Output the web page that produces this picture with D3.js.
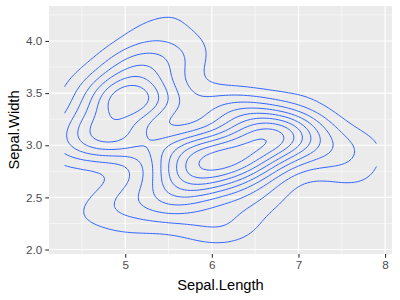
<!DOCTYPE html>
<html><head><meta charset="utf-8">
<script src="https://cdn.jsdelivr.net/npm/d3@7"></script>
<style>body{margin:0;background:#fff}svg{display:block}</style>
</head><body>
<svg id="chart" width="400" height="300"></svg>
<script>
// iris dataset (R), Sepal.Length and Sepal.Width
const sepalLength = [5.1,4.9,4.7,4.6,5.0,5.4,4.6,5.0,4.4,4.9,5.4,4.8,4.8,4.3,5.8,5.7,5.4,5.1,5.7,5.1,5.4,5.1,4.6,5.1,4.8,5.0,5.0,5.2,5.2,4.7,4.8,5.4,5.2,5.5,4.9,5.0,5.5,4.9,4.4,5.1,5.0,4.5,4.4,5.0,5.1,4.8,5.1,4.6,5.3,5.0,
7.0,6.4,6.9,5.5,6.5,5.7,6.3,4.9,6.6,5.2,5.0,5.9,6.0,6.1,5.6,6.7,5.6,5.8,6.2,5.6,5.9,6.1,6.3,6.1,6.4,6.6,6.8,6.7,6.0,5.7,5.5,5.5,5.8,6.0,5.4,6.0,6.7,6.3,5.6,5.5,5.5,6.1,5.8,5.0,5.6,5.7,5.7,6.2,5.1,5.7,
6.3,5.8,7.1,6.3,6.5,7.6,4.9,7.3,6.7,7.2,6.5,6.4,6.8,5.7,5.8,6.4,6.5,7.7,7.7,6.0,6.9,5.6,7.7,6.3,6.7,7.2,6.2,6.1,6.4,7.2,7.4,7.9,6.4,6.3,6.1,7.7,6.3,6.4,6.0,6.9,6.7,6.9,5.8,6.8,6.7,6.7,6.3,6.5,6.2,5.9];
const sepalWidth = [3.5,3.0,3.2,3.1,3.6,3.9,3.4,3.4,2.9,3.1,3.7,3.4,3.0,3.0,4.0,4.4,3.9,3.5,3.8,3.8,3.4,3.7,3.6,3.3,3.4,3.0,3.4,3.5,3.4,3.2,3.1,3.4,4.1,4.2,3.1,3.2,3.5,3.6,3.0,3.4,3.5,2.3,3.2,3.5,3.8,3.0,3.8,3.2,3.7,3.3,
3.2,3.2,3.1,2.3,2.8,2.8,3.3,2.4,2.9,2.7,2.0,3.0,2.2,2.9,2.9,3.1,3.0,2.7,2.2,2.5,3.2,2.8,2.5,2.8,2.9,3.0,2.8,3.0,2.9,2.6,2.4,2.4,2.7,2.7,3.0,3.4,3.1,2.3,3.0,2.5,2.6,3.0,2.6,2.3,2.7,3.0,2.9,2.9,2.5,2.8,
3.3,2.7,3.0,2.9,3.0,3.0,2.5,2.9,2.5,3.6,3.2,2.7,3.0,2.5,2.8,3.2,3.0,3.8,2.6,2.2,3.2,2.8,2.8,2.7,3.3,3.2,2.8,3.0,2.8,3.0,2.8,3.8,2.8,2.8,2.6,3.0,3.4,3.1,3.0,3.1,3.1,3.1,2.7,3.2,3.3,3.0,2.5,3.0,3.4,3.0];
const xTicks = [5, 6, 7, 8];
const xMinor = [4.5, 5.5, 6.5, 7.5];
const yTicks = [2.0, 2.5, 3.0, 3.5, 4.0];
const yMinor = [2.25, 2.75, 3.25, 3.75, 4.25];
const xTitle = "Sepal.Length";
const yTitle = "Sepal.Width";

// ---- MASS::kde2d with bandwidth.nrd, n = 100 ----
function bwNrd(v) {
  const s = v.slice().sort(d3.ascending);
  const h = (d3.quantileSorted(s, 0.75) - d3.quantileSorted(s, 0.25)) / 1.34;
  return 4 * 1.06 * Math.min(Math.sqrt(d3.variance(v)), h) * Math.pow(v.length, -0.2);
}
const N = 100;
const xr = d3.extent(sepalLength), yr = d3.extent(sepalWidth);
const hx = bwNrd(sepalLength) / 4, hy = bwNrd(sepalWidth) / 4;
const gx = d3.range(N).map(i => xr[0] + i * (xr[1] - xr[0]) / (N - 1));
const gy = d3.range(N).map(j => yr[0] + j * (yr[1] - yr[0]) / (N - 1));
const dnorm = u => Math.exp(-0.5 * u * u) / Math.sqrt(2 * Math.PI);
const nObs = sepalLength.length;
const ax = gx.map(g => sepalLength.map(x => dnorm((g - x) / hx)));
const ay = gy.map(g => sepalWidth.map(y => dnorm((g - y) / hy)));
const grid = new Array(N * N);
for (let j = 0; j < N; j++) for (let i = 0; i < N; i++) {
  let s = 0;
  for (let k = 0; k < nObs; k++) s += ax[i][k] * ay[j][k];
  grid[j * N + i] = s / (nObs * hx * hy);
}
const zr = d3.extent(grid);
const levels = d3.ticks(zr[0], zr[1], 10).filter(l => l > zr[0] && l < zr[1]);

const contours = d3.contours().size([N, N]).thresholds(levels)(grid);

// convert rings to open/closed polylines in data space (ggplot-like: open at grid edges)
const toData = p => {
  const ix = Math.max(0, Math.min(N - 1, p[0] - 0.5));
  const iy = Math.max(0, Math.min(N - 1, p[1] - 0.5));
  return [xr[0] + ix * (xr[1] - xr[0]) / (N - 1), yr[0] + iy * (yr[1] - yr[0]) / (N - 1)];
};
const onEdge = p => p[0] === 0 || p[0] === N || p[1] === 0 || p[1] === N;
const lines = [];
contours.forEach(c => {
  c.coordinates.forEach(poly => poly.forEach(ring => {
    const pts = ring.slice(0, -1);
    const start = pts.findIndex(onEdge);
    if (start < 0) { lines.push(ring.map(toData)); return; }
    const rot = pts.slice(start).concat(pts.slice(0, start));
    let cur = [];
    rot.forEach(p => {
      if (onEdge(p)) { if (cur.length > 1) lines.push(cur.map(toData)); cur = []; }
      else cur.push(p);
    });
    if (cur.length > 1) lines.push(cur.map(toData));
  }));
});

// scales: domain = range of drawn data, expanded 5%
const allPts = lines.flat();
const dx = d3.extent(allPts, d => d[0]), dy = d3.extent(allPts, d => d[1]);
const ex = (dx[1] - dx[0]) * 0.05, ey = (dy[1] - dy[0]) * 0.05;
const m = {left: 49, right: 392, top: 6, bottom: 254};
const x = d3.scaleLinear().domain([dx[0] - ex, dx[1] + ex]).range([m.left, m.right]);
const y = d3.scaleLinear().domain([dy[0] - ey, dy[1] + ey]).range([m.bottom, m.top]);

const svg = d3.select("#chart");
svg.append("rect").attr("x", m.left).attr("y", m.top)
  .attr("width", m.right - m.left).attr("height", m.bottom - m.top).attr("fill", "#EBEBEB");
const g = svg.append("g");
g.selectAll(".vminor").data(xMinor).join("line")
  .attr("x1", d => x(d)).attr("x2", d => x(d)).attr("y1", m.top).attr("y2", m.bottom)
  .attr("stroke", "#fff").attr("stroke-width", 0.55);
g.selectAll(".hminor").data(yMinor).join("line")
  .attr("y1", d => y(d)).attr("y2", d => y(d)).attr("x1", m.left).attr("x2", m.right)
  .attr("stroke", "#fff").attr("stroke-width", 0.55);
g.selectAll(".vmajor").data(xTicks).join("line")
  .attr("x1", d => x(d)).attr("x2", d => x(d)).attr("y1", m.top).attr("y2", m.bottom)
  .attr("stroke", "#fff").attr("stroke-width", 1.1);
g.selectAll(".hmajor").data(yTicks).join("line")
  .attr("y1", d => y(d)).attr("y2", d => y(d)).attr("x1", m.left).attr("x2", m.right)
  .attr("stroke", "#fff").attr("stroke-width", 1.1);

const clip = svg.append("clipPath").attr("id", "clip").append("rect")
  .attr("x", m.left).attr("y", m.top).attr("width", m.right - m.left).attr("height", m.bottom - m.top);
const line = d3.line().x(d => x(d[0])).y(d => y(d[1]));
svg.append("g").attr("clip-path", "url(#clip)")
  .selectAll("path").data(lines).join("path")
  .attr("d", line).attr("fill", "none").attr("stroke", "#3366FF").attr("stroke-width", 1.0)
  .attr("stroke-linejoin", "round");

const font = "Arial, 'Liberation Sans', sans-serif";
const xAxis = svg.append("g").attr("transform", `translate(0,${m.bottom})`)
  .call(d3.axisBottom(x).tickValues(xTicks).tickFormat(d3.format("d")).tickSize(3.7).tickPadding(3));
const yAxis = svg.append("g").attr("transform", `translate(${m.left},0)`)
  .call(d3.axisLeft(y).tickValues(yTicks).tickFormat(d3.format(".1f")).tickSize(3.7).tickPadding(3));
[xAxis, yAxis].forEach(a => {
  a.select(".domain").remove();
  a.selectAll(".tick line").attr("stroke", "#333333").attr("stroke-width", 1.1);
  a.selectAll(".tick text").attr("fill", "#4D4D4D").style("font-family", font).style("font-size", "11.7px");
});
svg.append("text").attr("x", (m.left + m.right) / 2).attr("y", 290)
  .attr("text-anchor", "middle").style("font-family", font).style("font-size", "14.7px")
  .attr("fill", "#000").text(xTitle);
svg.append("text").attr("transform", `translate(19,${(m.top + m.bottom) / 2}) rotate(-90)`)
  .attr("text-anchor", "middle").style("font-family", font).style("font-size", "14.7px")
  .attr("fill", "#000").text(yTitle);
</script>
</body></html>
